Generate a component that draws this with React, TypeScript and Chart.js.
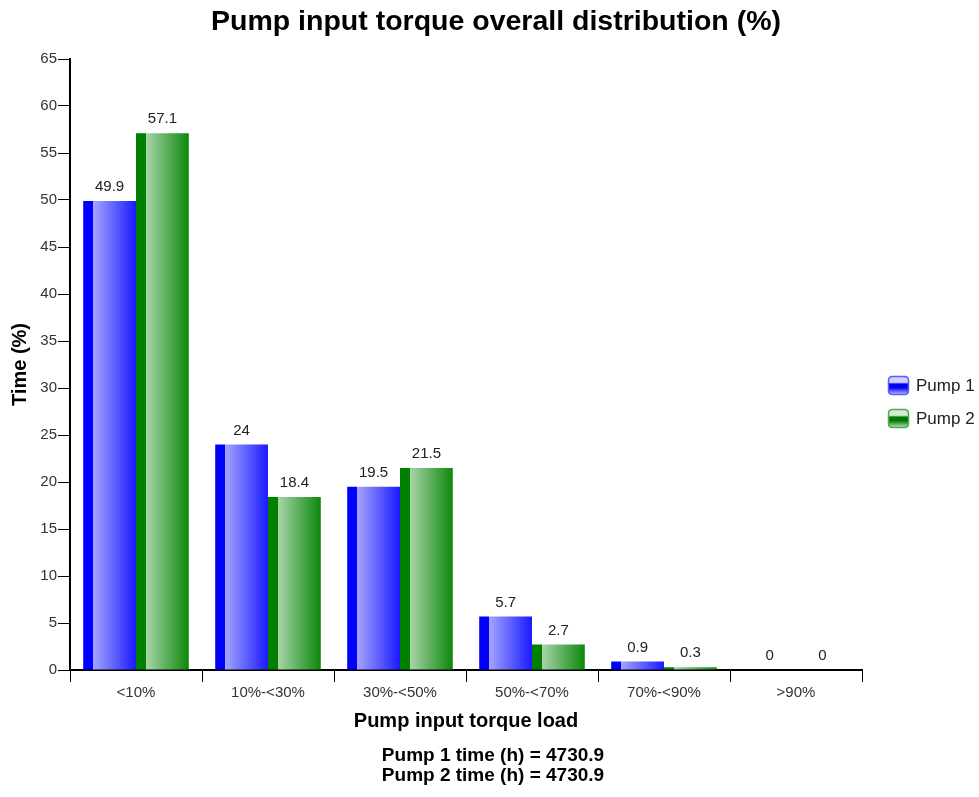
import React, { useEffect, useRef } from "react";
import { Chart, registerables } from "chart.js";

Chart.register(...registerables);

const categories = ["<10%", "10%-<30%", "30%-<50%", "50%-<70%", "70%-<90%", ">90%"];
const pump1 = [49.9, 24, 19.5, 5.7, 0.9, 0];
const pump2 = [57.1, 18.4, 21.5, 2.7, 0.3, 0];
const seriesNames = ["Pump 1", "Pump 2"];
const chartTitle = "Pump input torque overall distribution (%)";
const xTitle = "Pump input torque load";
const yTitle = "Time (%)";
const footerLines = ["Pump 1 time (h) = 4730.9", "Pump 2 time (h) = 4730.9"];

const FONT = "'Liberation Sans', Arial, Helvetica, sans-serif";

const palettes = [
  { dark: "#0000ff", light: "#a4a4ff", end: "#1a1aff", lb: "#5a5aff", lTop: "#d0d0ff", lMid: "#0000ee", lBot: "#b0b0ff" },
  { dark: "#008000", light: "#a8d4a8", end: "#0b880b", lb: "#4caf4c", lTop: "#d4ecd4", lMid: "#007800", lBot: "#b4dcb4" },
];

const CAT_PCT = 0.8;
const W = 979;
const H = 797;
const CENTER_X = 495;

function barGradient(ctx: any) {
  const chart = ctx.chart;
  const p = palettes[ctx.datasetIndex] || palettes[0];
  if (!chart.chartArea || ctx.type !== "data") return p.dark;
  const xs = chart.scales.x;
  const n = categories.length;
  const cw = (xs.right - xs.left) / n;
  const bw = (cw * CAT_PCT) / 2;
  const left = xs.getPixelForValue(ctx.dataIndex) - (cw * CAT_PCT) / 2 + ctx.datasetIndex * bw;
  const g = chart.ctx.createLinearGradient(left, 0, left + bw, 0);
  g.addColorStop(0, p.dark);
  g.addColorStop(0.19, p.dark);
  g.addColorStop(0.191, p.light);
  g.addColorStop(1, p.end);
  return g;
}

const valueLabels = {
  id: "valueLabels",
  afterDatasetsDraw(chart: any) {
    const ctx = chart.ctx;
    ctx.save();
    ctx.font = `15px ${FONT}`;
    ctx.fillStyle = "#222";
    ctx.textAlign = "center";
    ctx.textBaseline = "middle";
    chart.data.datasets.forEach((ds: any, i: number) => {
      const meta = chart.getDatasetMeta(i);
      meta.data.forEach((el: any, j: number) => {
        ctx.fillText(String(ds.data[j]), el.x, el.y - 14);
      });
    });
    ctx.restore();
  },
};

const headerFooter = {
  id: "headerFooter",
  afterDraw(chart: any) {
    const ctx = chart.ctx;
    ctx.save();
    ctx.fillStyle = "#000";
    ctx.textAlign = "center";
    ctx.textBaseline = "middle";
    ctx.font = `bold 28.5px ${FONT}`;
    ctx.fillText(chartTitle, CENTER_X + 1, 22);
    ctx.font = `bold 19px ${FONT}`;
    footerLines.forEach((line, i) => {
      ctx.fillText(line, CENTER_X - 2, 756 + i * 19.5);
    });
    ctx.restore();
  },
};

function roundRect(ctx: CanvasRenderingContext2D, x: number, y: number, w: number, h: number, r: number) {
  ctx.beginPath();
  ctx.moveTo(x + r, y);
  ctx.lineTo(x + w - r, y);
  ctx.quadraticCurveTo(x + w, y, x + w, y + r);
  ctx.lineTo(x + w, y + h - r);
  ctx.quadraticCurveTo(x + w, y + h, x + w - r, y + h);
  ctx.lineTo(x + r, y + h);
  ctx.quadraticCurveTo(x, y + h, x, y + h - r);
  ctx.lineTo(x, y + r);
  ctx.quadraticCurveTo(x, y, x + r, y);
  ctx.closePath();
}

const customLegend = {
  id: "customLegend",
  afterDraw(chart: any) {
    const ctx = chart.ctx;
    const area = chart.chartArea;
    const x0 = area.right + 26;
    const cy = chart.height / 2 + 3;
    const gap = 33;
    ctx.save();
    seriesNames.forEach((name, i) => {
      const p = palettes[i];
      const yc = cy - gap / 2 + i * gap;
      const bx = x0, by = yc - 9, bw = 20, bh = 18;
      const g = ctx.createLinearGradient(0, by, 0, by + bh);
      g.addColorStop(0, p.lTop);
      g.addColorStop(0.35, p.lTop);
      g.addColorStop(0.45, p.lMid);
      g.addColorStop(0.65, p.lMid);
      g.addColorStop(1, p.lBot);
      roundRect(ctx, bx + 0.5, by + 0.5, bw, bh, 4);
      ctx.fillStyle = g;
      ctx.fill();
      ctx.lineWidth = 1.5;
      ctx.strokeStyle = p.lb;
      ctx.stroke();
      ctx.font = `17px ${FONT}`;
      ctx.fillStyle = "#222";
      ctx.textAlign = "left";
      ctx.textBaseline = "middle";
      ctx.fillText(name, bx + bw + 8, yc + 1);
    });
    ctx.restore();
  },
};

export default function App() {
  const ref = useRef<HTMLCanvasElement | null>(null);
  useEffect(() => {
    if (!ref.current) return;
    const chart = new Chart(ref.current, {
      type: "bar",
      data: {
        labels: categories,
        datasets: [
          { label: seriesNames[0], data: pump1, backgroundColor: barGradient as any, borderWidth: 0 },
          { label: seriesNames[1], data: pump2, backgroundColor: barGradient as any, borderWidth: 0 },
        ],
      },
      options: {
        animation: false,
        responsive: false,
        maintainAspectRatio: false,
        datasets: { bar: { categoryPercentage: CAT_PCT, barPercentage: 1 } },
        layout: { padding: { left: 8, right: 117, top: 59, bottom: 52 } },
        plugins: {
          legend: { display: false },
          tooltip: { enabled: false },
          title: { display: false },
        },
        scales: {
          x: {
            grid: { display: true, drawOnChartArea: false, drawTicks: true, tickLength: 12, color: "#000", offset: true },
            border: { display: true, color: "#000", width: 2 },
            ticks: { color: "#333", font: { family: FONT, size: 15 }, padding: 2, maxRotation: 0 },
            title: {
              display: true,
              text: xTitle,
              color: "#000",
              font: { family: FONT, size: 20, weight: "bold", lineHeight: 1.2 },
              padding: { top: 0, bottom: 12 },
            },
            afterFit(scale: any) {
              scale.height = 75;
            },
          },
          y: {
            min: 0,
            max: 65,
            ticks: { stepSize: 5, color: "#333", font: { family: FONT, size: 15 }, padding: 1 },
            grid: { display: true, drawOnChartArea: false, drawTicks: true, tickLength: 12, color: "#000" },
            border: { display: true, color: "#000", width: 2 },
            title: {
              display: true,
              text: yTitle,
              color: "#000",
              font: { family: FONT, size: 20, weight: "bold", lineHeight: 1.2 },
              padding: { top: 0, bottom: 0 },
            },
            afterFit(scale: any) {
              scale.width = 62;
            },
          },
        },
      } as any,
      plugins: [valueLabels, customLegend, headerFooter],
    });
    return () => chart.destroy();
  }, []);
  return (
    <div style={{ position: "absolute", left: 0, top: 0, width: W, height: H, background: "#fff" }}>
      <canvas ref={ref} width={W} height={H} style={{ display: "block", width: W, height: H }} />
    </div>
  );
}
